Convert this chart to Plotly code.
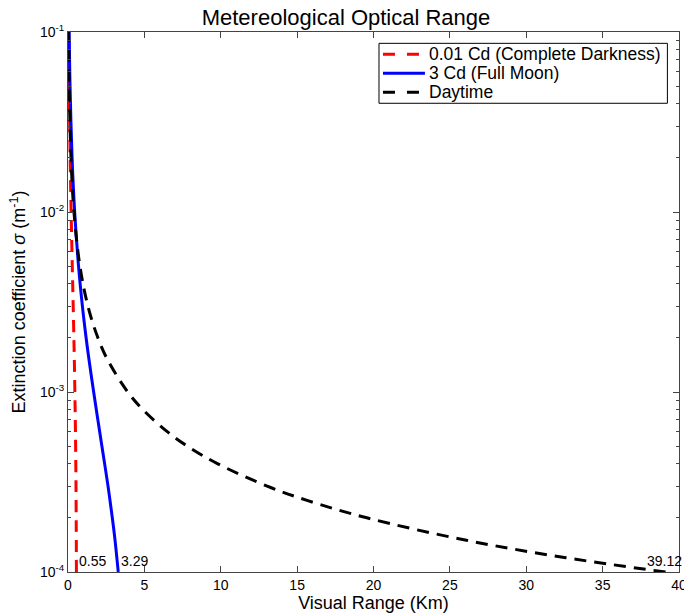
import plotly.graph_objects as go

# Extinction coefficient values (m^-1) for the night curves
sigma = [1e-4, 1.5e-4, 2e-4, 3e-4, 5e-4, 7e-4, 1e-3, 1.5e-3, 2e-3, 3e-3, 5e-3, 1e-2, 2e-2, 5e-2, 1e-1]
# Visual range (km)
v_dark = [0.55, 0.544, 0.536, 0.524, 0.50, 0.478, 0.45, 0.415, 0.385, 0.34, 0.28, 0.205, 0.14, 0.079, 0.049]
v_moon = [3.29, 3.08, 2.90, 2.62, 2.22, 1.955, 1.68, 1.38, 1.185, 0.943, 0.69, 0.437, 0.267, 0.1345, 0.078]

sigma_day = [1e-4, 1.2e-4, 1.5e-4, 2e-4, 2.5e-4, 3e-4, 4e-4, 5e-4, 6e-4, 8e-4,
             1e-3, 1.5e-3, 2e-3, 3e-3, 5e-3, 1e-2, 2e-2, 5e-2, 1e-1]
v_day = [39.12, 32.6, 26.08, 19.56, 15.65, 13.04, 9.78, 7.82, 6.52, 4.89,
         3.912, 2.608, 1.956, 1.304, 0.782, 0.391, 0.196, 0.078, 0.039]

series_names = ["0.01 Cd (Complete Darkness)", "3 Cd (Full Moon)", "Daytime"]
series_colors = ["#ff0000", "#0000ff", "#000000"]
series_dash = ["12px,8px", "solid", "12px,8px"]

labels = ["0.55", "3.29", "39.12"]
label_x = [0.55, 3.29, 37.68]

xticks = [0, 5, 10, 15, 20, 25, 30, 35, 40]
yticks = [1e-4, 1e-3, 1e-2, 1e-1]
yticktext = ["10<sup>-4</sup>", "10<sup>-3</sup>", "10<sup>-2</sup>", "10<sup>-1</sup>"]

font = "Liberation Sans, Arial, sans-serif"
axc = "#444444"

W, H = 684, 613

fig = go.Figure()
xs = [v_dark, v_moon, v_day]
ys = [sigma, sigma, sigma_day]
for name, c, d, xv, yv in zip(series_names, series_colors, series_dash, xs, ys):
    fig.add_trace(go.Scatter(x=xv, y=yv, mode="lines", name=name, showlegend=False,
                             line=dict(color=c, width=3, dash=d, shape="spline")))

for t, xv in zip(labels, label_x):
    fig.add_annotation(x=xv, y=-4, text=t, showarrow=False, xanchor="left", yanchor="bottom",
                       xshift=1, yshift=1, font=dict(family=font, size=14, color="black"))

# Legend box drawn in paper coordinates (matches the original's boxed legend)
lx0, lx1, ly0, ly1 = 0.509, 0.981, 0.868, 0.979
fig.add_shape(type="rect", xref="paper", yref="paper", x0=lx0, x1=lx1, y0=ly0, y1=ly1,
              line=dict(color="black", width=1), fillcolor="white", layer="above")
row_y = [0.9587, 0.9235, 0.8883]
sample_x1 = [0.580, 0.5842, 0.580]
legend_dash = ["12px,12px", "solid", "12px,12px"]
for name, c, dd, yy, sx1 in zip(series_names, series_colors, legend_dash, row_y, sample_x1):
    fig.add_shape(type="line", xref="paper", yref="paper", x0=0.5155, x1=sx1, y0=yy, y1=yy,
                  line=dict(color=c, width=3, dash=dd), layer="above")
    fig.add_annotation(xref="paper", yref="paper", x=0.5874, y=yy, text=name, showarrow=False,
                       xanchor="left", yanchor="middle", font=dict(family=font, size=17.5, color="black"))

fig.update_layout(
    width=W, height=H,
    margin=dict(l=67.5, r=4.5, t=31.7, b=41.3, autoexpand=False),
    paper_bgcolor="white", plot_bgcolor="white",
    title=dict(text="Metereological Optical Range", x=0.455, xanchor="center", xref="paper",
               y=1 - 17.5 / H, yref="container", yanchor="middle",
               font=dict(family=font, size=22, color="black")),
    font=dict(family=font, color="black"),
    showlegend=False,
)
fig.update_xaxes(range=[0, 40], tickvals=xticks, ticks="inside", ticklen=6, tickcolor=axc,
                 showline=True, linecolor=axc, linewidth=1, mirror="ticks", showgrid=False, zeroline=False,
                 automargin=False, ticklabeloverflow="allow", tickfont=dict(family=font, size=14, color="black"),
                 title=dict(text="Visual Range (Km)", font=dict(family=font, size=18, color="black"), standoff=0))
fig.update_yaxes(type="log", range=[-4, -1], tickvals=yticks, ticktext=yticktext, ticks="inside", ticklen=6,
                 tickcolor=axc, showline=True, linecolor=axc, linewidth=1, mirror="ticks", showgrid=False,
                 zeroline=False, automargin=False, ticklabeloverflow="allow",
                 tickfont=dict(family=font, size=14, color="black"),
                 minor=dict(ticks="inside", ticklen=3, tickcolor=axc, dtick="D1", showgrid=False),
                 title=dict(text="Extinction coefficient <i>σ</i> (m<sup>-1</sup>)",
                            font=dict(family=font, size=18, color="black"), standoff=9))

fig.write_html("out.html", config={"displayModeBar": False},
               post_script="document.body.style.margin='0';document.body.style.overflow='hidden';")
